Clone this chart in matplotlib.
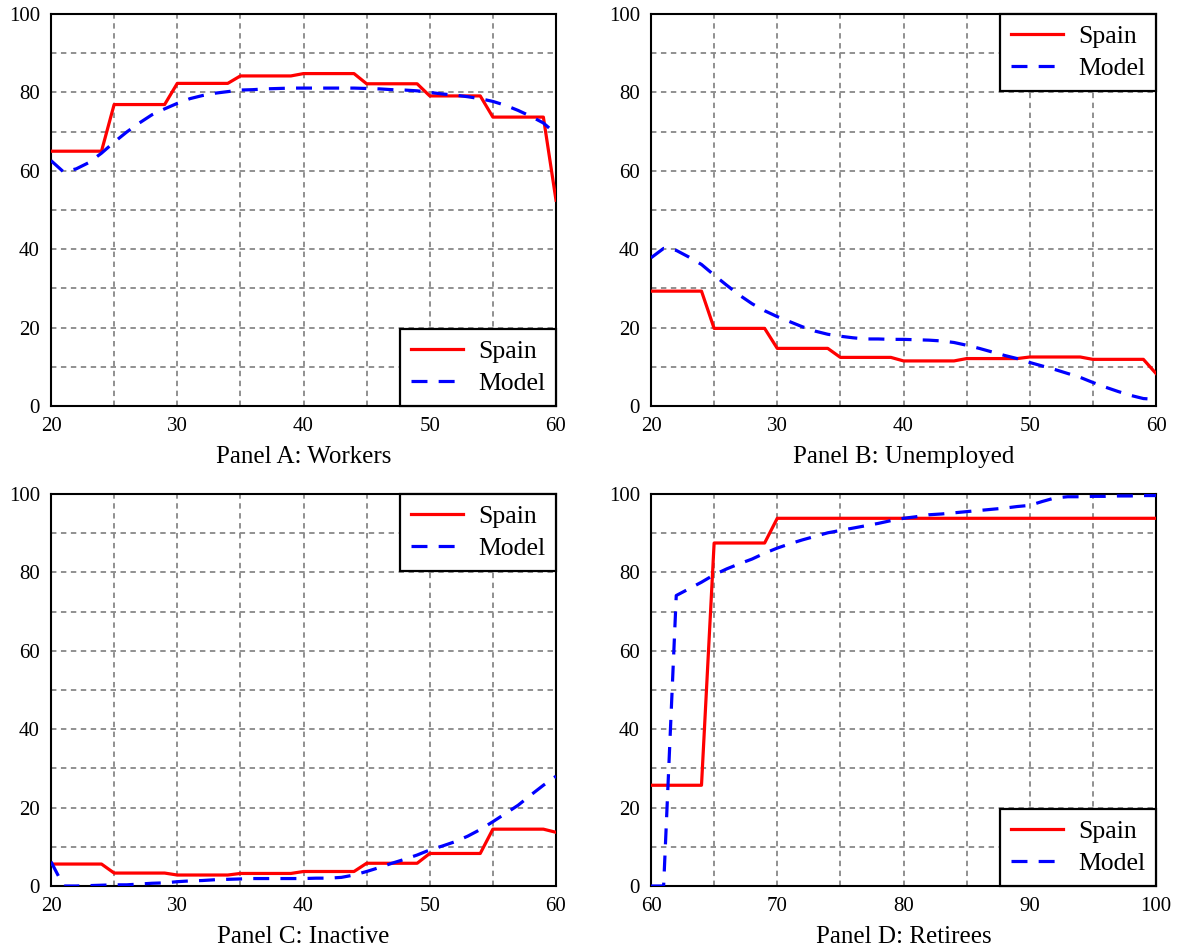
import numpy as np
import matplotlib
matplotlib.use("Agg")
import matplotlib.pyplot as plt

plt.rcParams['font.family'] = ['Liberation Serif', 'DejaVu Serif']

# ages
age_work = list(range(20, 61))
age_ret = list(range(60, 101))

# Spain data: constant within 5-year age groups
spain_workers = [65.0]*5 + [76.9]*5 + [82.3]*5 + [84.2]*5 + [84.8]*5 + [82.2]*5 + [79.1]*5 + [73.7]*5 + [52.5]
spain_unemp = [29.3]*5 + [19.8]*5 + [14.7]*5 + [12.4]*5 + [11.5]*5 + [12.1]*5 + [12.5]*5 + [11.9]*5 + [8.3]
spain_inact = [5.6]*5 + [3.3]*5 + [2.8]*5 + [3.2]*5 + [3.7]*5 + [5.8]*5 + [8.3]*5 + [14.5]*5 + [13.7]
spain_ret = [25.7]*5 + [87.5]*5 + [93.8]*31

# model data
model_workers = [62.6, 59.7, 60.5, 62.1, 64.5, 67.3, 69.9, 72.2, 74.3, 75.8,
                 77.2, 78.4, 79.2, 79.8, 80.2, 80.6, 80.7, 80.9, 81.0, 81.1,
                 81.1, 81.1, 81.1, 81.1, 81.1, 81.0, 80.9, 80.7, 80.6, 80.4,
                 80.0, 79.6, 79.3, 78.9, 78.4, 77.7, 76.7, 75.4, 73.9, 72.2, 69.4]
model_unemp = [37.8, 40.2, 39.7, 38.0, 36.1, 33.4, 30.8, 28.3, 26.1, 24.3,
               22.8, 21.5, 20.2, 19.1, 18.3, 17.8, 17.4, 17.1, 17.1, 17.0,
               17.0, 16.9, 16.8, 16.6, 16.2, 15.5, 14.7, 13.8, 12.9, 12.1,
               11.1, 10.2, 9.3, 8.3, 7.3, 6.0, 4.8, 3.7, 2.7, 1.9, 1.7]
model_inact = [6.2, 0.0, 0.0, 0.1, 0.2, 0.3, 0.3, 0.5, 0.7, 0.8,
               1.1, 1.3, 1.4, 1.6, 1.7, 1.8, 1.9, 1.9, 1.9, 1.9,
               1.9, 2.0, 2.0, 2.2, 2.8, 3.7, 4.7, 5.8, 6.8, 7.9,
               9.2, 10.2, 11.3, 12.7, 14.4, 16.4, 18.5, 20.6, 23.2, 25.7, 28.0]
model_ret = [0.0, 0.0, 74.1, 75.8, 77.5, 79.4, 80.9, 82.2, 83.4, 84.9,
             86.2, 87.3, 88.3, 89.2, 90.1, 90.7, 91.3, 91.9, 92.5, 93.2,
             93.8, 94.2, 94.7, 94.9, 95.2, 95.5, 95.8, 96.1, 96.4, 96.8,
             97.1, 98.1, 99.0, 99.3, 99.3, 99.4, 99.4, 99.5, 99.5, 99.6, 99.6]

panels = [
    ("Panel A: Workers", age_work, spain_workers, model_workers, "lower right", (20, 60)),
    ("Panel B: Unemployed", age_work, spain_unemp, model_unemp, "upper right", (20, 60)),
    ("Panel C: Inactive", age_work, spain_inact, model_inact, "upper right", (20, 60)),
    ("Panel D: Retirees", age_ret, spain_ret, model_ret, "lower right", (60, 100)),
]

fig = plt.figure(figsize=(11.8, 9.51), dpi=100)
W, H = 1180, 951
boxes = [(51, 14), (651, 14), (51, 494), (651, 494)]

for (title, x, s, m, loc, xl), (l, t) in zip(panels, boxes):
    ax = fig.add_axes([l / W, 1 - (t + 392) / H, 505 / W, 392 / H])
    ax.plot(x, s, color='#ff0000', lw=2.3, label='Spain', zorder=3)
    ax.plot(x, m, color='#0000ff', lw=2.3, ls=(0, (5, 3.5)), label='Model', zorder=3)
    ax.set_xlim(*xl)
    ax.set_ylim(0, 100)
    ax.set_xticks(np.arange(xl[0], xl[1] + 1, 10))
    ax.set_xticks(np.arange(xl[0], xl[1] + 1, 5), minor=True)
    ax.set_yticks(np.arange(0, 101, 20))
    ax.set_yticks(np.arange(0, 101, 10), minor=True)
    ax.grid(which='both', color='#888888', ls=(0, (3, 2.5)), lw=1.3)
    ax.tick_params(which='both', length=0, labelsize=15)
    ax.tick_params(axis='x', pad=8)
    ax.tick_params(axis='y', pad=8)
    for sp in ax.spines.values():
        sp.set_linewidth(1.5)
    leg = ax.legend(loc=loc, fontsize=18.5, fancybox=False, framealpha=1,
                    edgecolor='black', borderaxespad=0, handlelength=2.0,
                    borderpad=0.42, labelspacing=0.35, handletextpad=0.6)
    leg.get_frame().set_linewidth(1.6)
    leg.set_zorder(5)
    ax.text(0.5, -0.13, title, transform=ax.transAxes, ha='center', va='center', fontsize=18)

fig.savefig("out.png", dpi=100)
